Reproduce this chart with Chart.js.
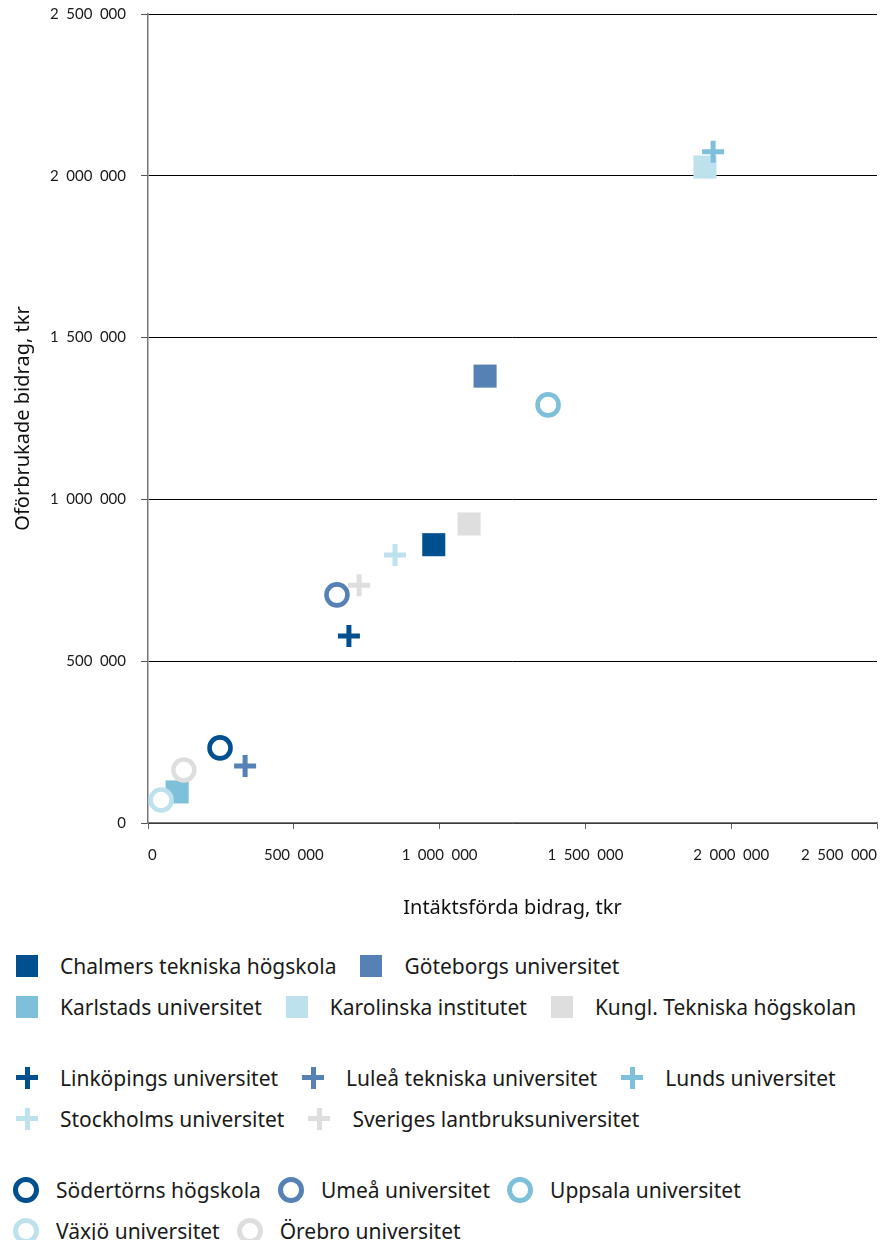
<!DOCTYPE html>
<html lang="sv">
<head>
<meta charset="utf-8">
<script src="https://cdn.jsdelivr.net/npm/chart.js@4.4.1/dist/chart.umd.min.js"></script>
<style>
  body { margin: 0; background: #fff; font-family: 'Noto Sans', sans-serif; color: #1a1a1a; overflow: hidden; }
  #wrap { width: 882px; height: 930px; }
  #legend { padding-left: 16px; margin-top: 15px; }
  .rad { display: flex; height: 41px; white-space: nowrap; }
  .grupp { margin-bottom: 30px; }
  .post { display: flex; align-items: center; height: 41px; margin-right: 24px; font-size: 21px; }
  .mark { position: relative; width: 22px; height: 22px; margin-right: 22px; flex: none; box-sizing: border-box; }
  .bar { position: absolute; }
</style>
</head>
<body>
<div id="wrap"><canvas id="graf" width="882" height="930"></canvas></div>
<div id="legend"></div>
<script>
// Lärosäten
const larosaten = [
  'Chalmers tekniska högskola', 'Göteborgs universitet', 'Karlstads universitet',
  'Karolinska institutet', 'Kungl. Tekniska högskolan',
  'Linköpings universitet', 'Luleå tekniska universitet', 'Lunds universitet',
  'Stockholms universitet', 'Sveriges lantbruksuniversitet',
  'Södertörns högskola', 'Umeå universitet', 'Uppsala universitet',
  'Växjö universitet', 'Örebro universitet'
];

// Intäktsförda bidrag (x) och oförbrukade bidrag (y), tkr
const intaktsforda = [
  980000, 1156000, 100000, 1910000, 1101000,
  689000, 333000, 1938000, 847000, 724000,
  247000, 648000, 1372000, 45000, 123000
];
const oforbrukade = [
  860000, 1381000, 96000, 2027000, 924000,
  578000, 176000, 2074000, 828000, 735000,
  232000, 705000, 1292000, 71000, 164000
];

// Axelsteg
const axelSteg = [0, 500000, 1000000, 1500000, 2000000, 2500000];

const farger = ['#00508f', '#5581b4', '#7ebfd9', '#bde2ee', '#dedede'];
const former = ['rect', 'cross', 'circle'];

// rader i teckenförklaringen (index i larosaten)
const legendRader = [[[0, 1], [2, 3, 4]], [[5, 6, 7], [8, 9]], [[10, 11, 12], [13, 14]]];

const fmt = v => String(v).replace(/\B(?=(\d{3})+(?!\d))/g, '\u2002');

const datasets = larosaten.map((namn, i) => {
  const form = former[Math.floor(i / 5)];
  const farg = farger[i % 5];
  const ds = {
    label: namn,
    data: [{ x: intaktsforda[i], y: oforbrukade[i] }],
    pointStyle: form,
    borderColor: farg,
    backgroundColor: farg,
    order: 2 - Math.floor(i / 5)
  };
  if (form === 'rect') { ds.pointRadius = 16.3; ds.borderWidth = 0; }
  if (form === 'cross') { ds.pointRadius = 11; ds.borderWidth = 5; }
  if (form === 'circle') { ds.pointRadius = 10.5; ds.borderWidth = 4.6; ds.backgroundColor = '#fff'; }
  ds.pointHoverRadius = ds.pointRadius;
  return ds;
});

const tickFont = { family: 'Lato', size: 15 };
const titleFont = { family: 'Noto Sans', size: 20 };

new Chart(document.getElementById('graf'), {
  type: 'scatter',
  data: { datasets },
  options: {
    responsive: false,
    animation: false,
    layout: { autoPadding: false, padding: { top: 14, right: 5, left: 0, bottom: 0 } },
    plugins: { legend: { display: false }, tooltip: { enabled: false } },
    scales: {
      x: {
        min: 0, max: 2500000,
        afterBuildTicks: s => { s.ticks = axelSteg.map(v => ({ value: v })); },
        afterFit: s => { s.height = 107; s.paddingLeft = 0; s.paddingRight = 0; },
        ticks: { callback: v => fmt(v), font: tickFont, color: '#1a1a1a', padding: 17, align: 'inner', maxRotation: 0 },
        grid: { drawOnChartArea: false, drawTicks: true, tickLength: 6, color: '#666' },
        border: { color: '#777', width: 1.5 },
        title: { display: true, text: 'Intäktsförda bidrag, tkr', font: titleFont, color: '#111', padding: { top: 0, bottom: 10 } }
      },
      y: {
        min: 0, max: 2500000,
        afterBuildTicks: s => { s.ticks = axelSteg.map(v => ({ value: v })); },
        afterFit: s => { s.width = 148; s.paddingTop = 0; s.paddingBottom = 0; },
        ticks: { callback: v => fmt(v), font: tickFont, color: '#1a1a1a', padding: 15 },
        grid: { color: '#000', lineWidth: 1, tickLength: 7, tickColor: '#555' },
        border: { color: '#777', width: 1.5 },
        title: { display: true, text: 'Oförbrukade bidrag, tkr', font: titleFont, color: '#111', padding: { top: 11, bottom: 0 } }
      }
    }
  }
});

// Teckenförklaring i tre grupper
const legend = document.getElementById('legend');
legendRader.forEach((rader, g) => {
  const grupp = document.createElement('div');
  grupp.className = 'grupp';
  rader.forEach(rad => {
    const radEl = document.createElement('div');
    radEl.className = 'rad';
    rad.forEach(i => {
      const farg = farger[i % 5];
      const post = document.createElement('div');
      post.className = 'post';
      const m = document.createElement('span');
      m.className = 'mark';
      if (g === 0) {
        m.style.background = farg;
      } else if (g === 1) {
        m.innerHTML = '<span class="bar" style="left:0;top:8.5px;width:22px;height:5px;background:' + farg + '"></span>' +
                      '<span class="bar" style="left:8.5px;top:0;width:5px;height:22px;background:' + farg + '"></span>';
      } else {
        post.style.marginRight = '20px';
        m.style.width = '26px'; m.style.height = '26px';
        m.style.border = '5px solid ' + farg; m.style.borderRadius = '50%';
        m.style.marginLeft = '-3px'; m.style.marginRight = '17px';
      }
      post.appendChild(m);
      post.appendChild(document.createTextNode(larosaten[i]));
      radEl.appendChild(post);
    });
    grupp.appendChild(radEl);
  });
  legend.appendChild(grupp);
});
</script>
</body>
</html>
